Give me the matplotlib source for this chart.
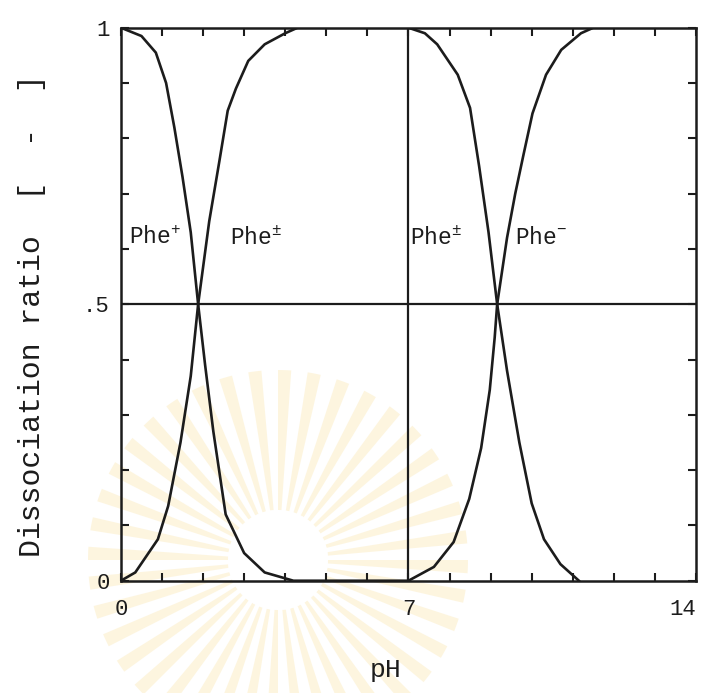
import matplotlib
matplotlib.use('Agg')
import matplotlib.pyplot as plt
from matplotlib.patches import Wedge, Circle

# values (pH vs dissociation ratio)
ph_cation = [0, 0.5, 0.85, 1.1, 1.3, 1.5, 1.7, 1.88, 2.05, 2.25, 2.55, 3.0, 3.5, 4.2, 7.0]
cation = [1.0, 0.985, 0.955, 0.90, 0.82, 0.73, 0.63, 0.50, 0.39, 0.27, 0.12, 0.05, 0.015, 0.0, 0.0]

ph_zwitter = [0, 0.35, 0.9, 1.15, 1.45, 1.7, 1.88, 2.15, 2.4, 2.6, 2.8, 3.1, 3.5, 4.0, 4.3,
              7.0, 7.4, 7.7, 8.2, 8.5, 8.72, 8.95, 9.16, 9.4, 9.7, 10.0, 10.3, 10.7, 11.15]
zwitter = [0.0, 0.015, 0.075, 0.135, 0.25, 0.37, 0.50, 0.65, 0.76, 0.85, 0.89, 0.94, 0.97, 0.99, 1.0,
           1.0, 0.99, 0.97, 0.915, 0.855, 0.75, 0.63, 0.50, 0.38, 0.25, 0.14, 0.075, 0.03, 0.0]

ph_anion = [7.0, 7.62, 8.1, 8.48, 8.77, 8.98, 9.1, 9.16, 9.4, 9.6, 9.8, 10.02, 10.35, 10.72, 11.2, 11.5, 14.0]
anion = [0.0, 0.025, 0.07, 0.148, 0.24, 0.345, 0.44, 0.50, 0.62, 0.70, 0.77, 0.845, 0.915, 0.96, 0.99, 1.0, 1.0]

x_ticks = list(range(15))
x_labels = ['0', '', '', '', '', '', '', '7', '', '', '', '', '', '', '14']
y_ticks = [i / 10 for i in range(11)]
y_labels = ['0', '', '', '', '', '.5', '', '', '', '', '1']

species = ['Phe$^{+}$', 'Phe$^{\\pm}$', 'Phe$^{\\pm}$', 'Phe$^{-}$']
species_ph = [0.2, 2.65, 7.05, 9.6]
species_y = 0.62

plt.rcParams['font.family'] = ['Liberation Mono', 'DejaVu Sans Mono']
plt.rcParams['mathtext.fontset'] = 'custom'
plt.rcParams['mathtext.rm'] = 'Liberation Mono'
plt.rcParams['mathtext.default'] = 'rm'

ink = '#1c1c1c'

fig = plt.figure(figsize=(7.03, 6.93), dpi=100)
fig.patch.set_facecolor('white')

# faint watermark behind the chart
bg = fig.add_axes([0, 0, 1, 1], zorder=0)
bg.set_xlim(0, 703)
bg.set_ylim(693, 0)
bg.axis('off')
cx, cy = 278, 560
for ang in range(0, 360, 9):
    bg.add_patch(Wedge((cx, cy), 190, ang, ang + 4, width=140,
                       facecolor='#fbe6ad', edgecolor='none', alpha=0.38))
bg.add_patch(Circle((cx, cy), 50, facecolor='white', edgecolor='none'))

ax = fig.add_axes([0.172, 0.162, 0.818, 0.798], zorder=1)
ax.set_facecolor('none')

ax.plot(ph_cation, cation, color=ink, lw=1.9)
ax.plot(ph_zwitter, zwitter, color=ink, lw=1.9)
ax.plot(ph_anion, anion, color=ink, lw=1.9)
ax.axhline(0.5, color=ink, lw=1.6)
ax.plot([7, 7], [0, 1], color=ink, lw=1.6)

for name, px in zip(species, species_ph):
    ax.text(px, species_y, name, fontsize=16.5, color=ink, ha='left', va='center')

ax.set_xlim(0, 14)
ax.set_ylim(0, 1)
ax.set_xticks(x_ticks)
ax.set_xticklabels(x_labels)
ax.set_yticks(y_ticks)
ax.set_yticklabels(y_labels)
ax.tick_params(direction='in', length=6, width=1.5, top=True, right=True,
               labelsize=16, colors=ink)
ax.tick_params(axis='x', pad=13)
ax.tick_params(axis='y', pad=8)
ax.get_xticklabels()[-1].set_horizontalalignment('right')
for s in ax.spines.values():
    s.set_linewidth(1.8)
    s.set_color(ink)

ax.set_xlabel('pH', fontsize=19, color=ink)
ax.xaxis.set_label_coords(0.46, -0.14)
ax.set_ylabel('Dissociation ratio  [  -  ]', fontsize=21.5, color=ink)
ax.yaxis.set_label_coords(-0.13, 0.48)

fig.savefig('out.png', dpi=100, facecolor='white')
